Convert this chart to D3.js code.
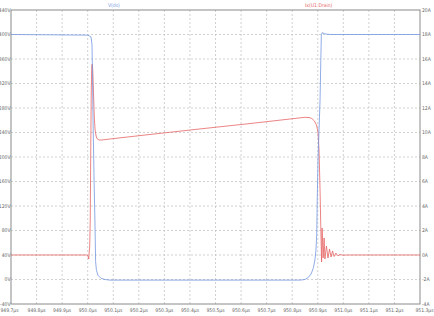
<!DOCTYPE html>
<html>
<head>
<meta charset="utf-8">
<script src="https://cdn.jsdelivr.net/npm/d3@7"></script>
<style>
  body { margin: 0; background: #fff; }
  svg { display: block; }
  .lbl { font-family: "DejaVu Sans Condensed", "Liberation Sans Narrow", sans-serif; font-size: 5px; fill: #666; }
</style>
</head>
<body>
<svg id="chart"></svg>
<script>
// time axis (µs)
var timeTicks = [949.7, 949.8, 949.9, 950.0, 950.1, 950.2, 950.3, 950.4, 950.5,
  950.6, 950.7, 950.8, 950.9, 951.0, 951.1, 951.2, 951.3];
var voltTicks = [-40, 0, 40, 80, 120, 160, 200, 240, 280, 320, 360, 400, 440];
var ampTicks = [-4, -2, 0, 2, 4, 6, 8, 10, 12, 14, 16, 18, 20];

// V(ds) trace
var vdsTime = [949.700, 950.001, 950.013, 950.017, 950.019, 950.021, 950.025, 950.029,
  950.031, 950.034, 950.040, 950.052, 950.068, 950.087, 950.831, 950.850, 950.862,
  950.874, 950.883, 950.889, 950.893, 950.896, 950.898, 950.901, 950.905, 950.909,
  950.912, 950.914, 950.917, 950.928, 950.948, 951.300];
var vdsVolts = [400, 399, 396, 383, 326, 260, 162, 81,
  29, 16, 7, 2, 0, -1, -1, 0, 3,
  9, 19, 32, 48, 73, 130, 195, 244, 293,
  358, 400, 403, 401, 400, 400];

// Ix(U1:Drain) trace
var idTime = [949.700, 949.997, 950.001, 950.004, 950.006, 950.008, 950.010, 950.012,
  950.014, 950.016, 950.018, 950.020, 950.023, 950.026, 950.029, 950.033, 950.036,
  950.044, 950.056, 950.087, 950.244, 950.439, 950.635, 950.791, 950.850, 950.866,
  950.877, 950.887, 950.895, 950.901, 950.905, 950.909, 950.913, 950.915, 950.917,
  950.921, 950.925, 950.928, 950.934, 950.940, 950.946, 950.952, 950.958, 950.964,
  950.971, 950.979, 950.987, 950.999, 951.014, 951.300];
var idAmps = [0, 0, -0.08, -0.33, 0.24, 0.73, 2.86, 8.57,
  13.47, 15.43, 15.59, 14.94, 13.06, 11.18, 10.2, 9.71, 9.51,
  9.39, 9.39, 9.47, 9.84, 10.29, 10.73, 11.1, 11.24, 11.22,
  11.14, 10.94, 10.61, 10.04, 8.57, 5.31, 1.22, -0.57, 2.2,
  -0.24, 1.39, -0.33, 0.73, -0.24, 0.49, -0.16, 0.33, -0.12,
  0.16, -0.07, 0.04, -0.02, 0, 0];

var W = 434, H = 316;
var margin = { left: 11, right: 14, top: 10, bottom: 12 };
var blue = "#7497e0", red = "#e66466";

var svg = d3.select("#chart").attr("width", W).attr("height", H);

var x = d3.scaleLinear().domain([949.7, 951.3]).range([margin.left, W - margin.right]);
var yV = d3.scaleLinear().domain([-40, 440]).range([H - margin.bottom, margin.top]);
var yA = d3.scaleLinear().domain([-4, 20]).range([H - margin.bottom, margin.top]);

// grid
var grid = svg.append("g").attr("stroke", "#bdbdbd").attr("stroke-width", 0.7)
  .attr("stroke-dasharray", "2,2");
grid.selectAll("line.v").data(timeTicks.slice(1, -1)).enter().append("line")
  .attr("x1", d => x(d)).attr("x2", d => x(d))
  .attr("y1", yV(440)).attr("y2", yV(-40));
grid.selectAll("line.h").data(voltTicks.slice(1, -1)).enter().append("line")
  .attr("x1", x(949.7)).attr("x2", x(951.3))
  .attr("y1", d => yV(d)).attr("y2", d => yV(d));

// frame
svg.append("rect")
  .attr("x", x(949.7)).attr("y", yV(440))
  .attr("width", x(951.3) - x(949.7)).attr("height", yV(-40) - yV(440))
  .attr("fill", "none").attr("stroke", "#8a8a8a").attr("stroke-width", 1);

// axes labels
svg.append("g").selectAll("text").data(voltTicks).enter().append("text")
  .attr("class", "lbl").attr("x", x(949.7) - 0.5).attr("y", d => yV(d) + 1.8)
  .attr("text-anchor", "end").text(d => d + "V");
svg.append("g").selectAll("text").data(ampTicks).enter().append("text")
  .attr("class", "lbl").attr("x", x(951.3) + 2).attr("y", d => yA(d) + 1.8)
  .attr("text-anchor", "start").text(d => d + "A");
var n = timeTicks.length;
svg.append("g").selectAll("text").data(timeTicks).enter().append("text")
  .attr("class", "lbl").attr("x", (d, i) => i == 0 ? 0.5 : i == n - 1 ? W - 0.5 : x(d))
  .attr("y", H - 4)
  .attr("text-anchor", (d, i) => i == 0 ? "start" : i == n - 1 ? "end" : "middle")
  .text(d => d.toFixed(1) + "µs");

// traces
var vLine = d3.line().x((d, i) => x(vdsTime[i])).y(d => yV(d));
var aLine = d3.line().x((d, i) => x(idTime[i])).y(d => yA(d));

svg.append("path").datum(idAmps).attr("d", aLine)
  .attr("fill", "none").attr("stroke", red).attr("stroke-width", 0.8);
svg.append("path").datum(vdsVolts).attr("d", vLine)
  .attr("fill", "none").attr("stroke", blue).attr("stroke-width", 0.8);

// trace names
svg.append("text").attr("class", "lbl").attr("x", 108).attr("y", 7)
  .style("fill", blue).text("V(ds)");
svg.append("text").attr("class", "lbl").attr("x", 305).attr("y", 7)
  .style("fill", red).text("Ix(U1:Drain)");
</script>
</body>
</html>
